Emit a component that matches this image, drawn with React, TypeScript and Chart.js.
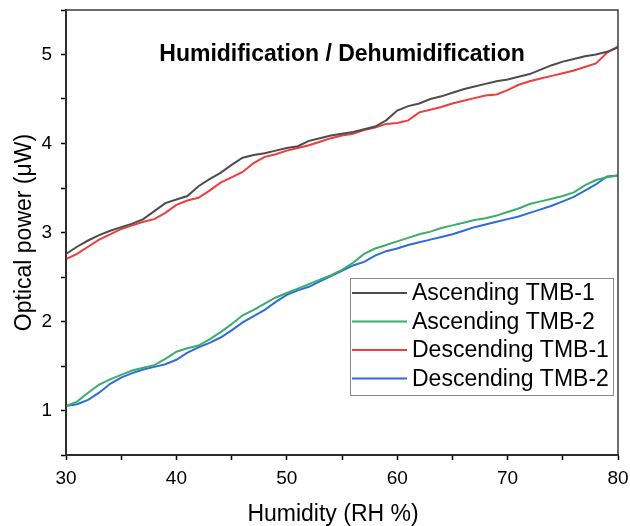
import React, { useEffect, useRef } from "react";
import { Chart, registerables } from "chart.js";

Chart.register(...registerables);

const humidity = [
  30, 31, 32, 33, 34, 35, 36, 37, 38, 39, 40, 41, 42, 43, 44, 45, 46, 47, 48, 49,
  50, 51, 52, 53, 54, 55, 56, 57, 58, 59, 60, 61, 62, 63, 64, 65, 66, 67, 68, 69,
  70, 71, 72, 73, 74, 75, 76, 77, 78, 79, 80,
];

const ascendingTMB1 = [
  2.76, 2.84, 2.91, 2.97, 3.02, 3.06, 3.1, 3.15, 3.24, 3.33, 3.37, 3.41, 3.52, 3.6, 3.67, 3.76, 3.84, 3.87, 3.89, 3.92,
  3.95, 3.97, 4.03, 4.06, 4.09, 4.11, 4.13, 4.16, 4.19, 4.26, 4.37, 4.42, 4.45, 4.5, 4.53, 4.57, 4.61, 4.64, 4.67, 4.7,
  4.72, 4.75, 4.78, 4.83, 4.88, 4.92, 4.95, 4.98, 5.0, 5.03, 5.08,
];

const ascendingTMB2 = [
  1.05, 1.1, 1.2, 1.29, 1.35, 1.4, 1.45, 1.48, 1.51, 1.58, 1.66, 1.7, 1.73, 1.8, 1.88, 1.97, 2.07, 2.13, 2.2, 2.27,
  2.32, 2.37, 2.42, 2.47, 2.52, 2.58, 2.66, 2.76, 2.82, 2.86, 2.9, 2.94, 2.98, 3.01, 3.05, 3.08, 3.11, 3.14, 3.16, 3.19,
  3.23, 3.27, 3.32, 3.35, 3.38, 3.41, 3.45, 3.53, 3.59, 3.62, 3.64,
];

const descendingTMB1 = [
  2.7, 2.76, 2.84, 2.92, 2.98, 3.04, 3.08, 3.12, 3.15, 3.22, 3.31, 3.36, 3.39, 3.47, 3.56, 3.62, 3.68, 3.78, 3.85, 3.88,
  3.92, 3.95, 3.98, 4.02, 4.06, 4.09, 4.11, 4.15, 4.18, 4.22, 4.23, 4.26, 4.35, 4.38, 4.41, 4.45, 4.48, 4.51, 4.54, 4.55,
  4.6, 4.66, 4.7, 4.73, 4.76, 4.79, 4.82, 4.86, 4.9, 5.02, 5.09,
];

const descendingTMB2 = [
  1.05, 1.07, 1.12, 1.2, 1.3, 1.37, 1.42, 1.46, 1.49, 1.52, 1.57, 1.65, 1.71, 1.76, 1.82, 1.9, 1.99, 2.06, 2.13, 2.22,
  2.3, 2.35, 2.39, 2.45, 2.51, 2.57, 2.63, 2.67, 2.74, 2.79, 2.82, 2.86, 2.89, 2.92, 2.95, 2.98, 3.02, 3.06, 3.09, 3.12,
  3.15, 3.18, 3.22, 3.26, 3.3, 3.35, 3.4, 3.47, 3.54, 3.63, 3.64,
];

const seriesLabels = ["Ascending TMB-1", "Ascending TMB-2", "Descending TMB-1", "Descending TMB-2"];
const seriesColors = ["#4d4d4d", "#3aae6a", "#f03c3c", "#2b6de0"];
const seriesValues = [ascendingTMB1, ascendingTMB2, descendingTMB1, descendingTMB2];

const chartTitle = "Humidification / Dehumidification";
const xTitle = "Humidity (RH %)";
const yTitle = "Optical power (\u03bcW)";

const FONT = "'Liberation Sans', Arial, sans-serif";

const framePlugin = {
  id: "frameAndLegend",
  afterDraw(chart: any) {
    const ctx = chart.ctx;
    const area = chart.chartArea;
    const left = area.left;
    const right = area.right;
    const top = area.top;
    const bottom = area.bottom;
    ctx.save();
    // full frame as one stroked rectangle (left/bottom are covered by the axes)
    ctx.strokeStyle = "#3c3c3c";
    ctx.lineWidth = 1.5;
    ctx.strokeRect(left, top, right - left, bottom - top);

    // title
    ctx.fillStyle = "#000";
    ctx.font = `bold 23px ${FONT}`;
    ctx.textAlign = "center";
    ctx.textBaseline = "middle";
    ctx.fillText(chartTitle, (left + right) / 2, top + 45);

    // x axis title
    ctx.font = `23px ${FONT}`;
    ctx.fillText(xTitle, (left + right) / 2 - 9, bottom + 60);

    // legend
    const bx = 350;
    const by = 278;
    const bw = 263;
    const bh = 117;
    ctx.fillStyle = "#fff";
    ctx.fillRect(bx, by, bw, bh);
    ctx.strokeStyle = "#8a8a8a";
    ctx.lineWidth = 1;
    ctx.strokeRect(bx + 0.5, by + 0.5, bw, bh);
    ctx.font = `23px ${FONT}`;
    ctx.textAlign = "left";
    ctx.textBaseline = "middle";
    chart.data.datasets.forEach((ds: any, i: number) => {
      const y = by + 15 + i * 28.5;
      ctx.strokeStyle = ds.borderColor;
      ctx.lineWidth = 2;
      ctx.beginPath();
      ctx.moveTo(bx + 2, y);
      ctx.lineTo(bx + 57, y);
      ctx.stroke();
      ctx.fillStyle = "#000";
      ctx.fillText(ds.label, bx + 62, y + 1);
    });
    ctx.restore();
  },
};

export default function App() {
  const ref = useRef<HTMLCanvasElement>(null);

  useEffect(() => {
    if (!ref.current) return;
    const chart = new Chart(ref.current, {
      type: "line",
      data: {
        datasets: seriesValues.map((vals, i) => ({
          label: seriesLabels[i],
          data: humidity.map((h, j) => ({ x: h, y: vals[j] })),
          borderColor: seriesColors[i],
          backgroundColor: seriesColors[i],
          borderWidth: 2,
          pointRadius: 0,
          tension: 0,
          fill: false,
        })),
      },
      options: {
        responsive: false,
        animation: false,
        layout: { padding: { left: 0, top: 10, right: 12, bottom: 0 } },
        plugins: {
          legend: { display: false },
          tooltip: { enabled: false },
          title: { display: false },
        },
        scales: {
          x: {
            type: "linear",
            min: 30,
            max: 80,
            afterFit: (s: any) => {
              s.height = 71;
              s.paddingLeft = 0;
              s.paddingRight = 0;
            },
            ticks: {
              stepSize: 5,
              autoSkip: false,
              maxRotation: 0,
              color: "#000",
              padding: 7,
              font: { family: FONT, size: 19 },
              callback: (v: any) => (Number(v) % 10 === 0 ? String(v) : ""),
            },
            grid: {
              drawOnChartArea: false,
              drawTicks: true,
              tickLength: 5,
              tickColor: "#000",
              tickWidth: 1.5,
            },
            border: { display: true, color: "#000", width: 2 },
            title: { display: false },
          },
          y: {
            type: "linear",
            min: 0.5,
            max: 5.5,
            afterFit: (s: any) => {
              s.width = 66;
              s.paddingTop = 0;
              s.paddingBottom = 0;
            },
            ticks: {
              stepSize: 0.5,
              autoSkip: false,
              color: "#000",
              padding: 9,
              font: { family: FONT, size: 19 },
              callback: (v: any) => (Number.isInteger(Number(v)) ? String(v) : ""),
            },
            grid: {
              drawOnChartArea: false,
              drawTicks: true,
              tickLength: 5,
              tickColor: "#000",
              tickWidth: 1.5,
            },
            border: { display: true, color: "#000", width: 2 },
            title: {
              display: true,
              text: yTitle,
              color: "#000",
              font: { family: FONT, size: 23, lineHeight: 1 },
              padding: { top: 13, bottom: 0 },
            },
          },
        },
      },
      plugins: [framePlugin],
    });
    return () => chart.destroy();
  }, []);

  return (
    <div style={{ position: "fixed", left: 0, top: 0, width: 630, height: 526, background: "#fff" }}>
      <canvas ref={ref} width={630} height={526} style={{ width: 630, height: 526, display: "block" }} />
    </div>
  );
}
